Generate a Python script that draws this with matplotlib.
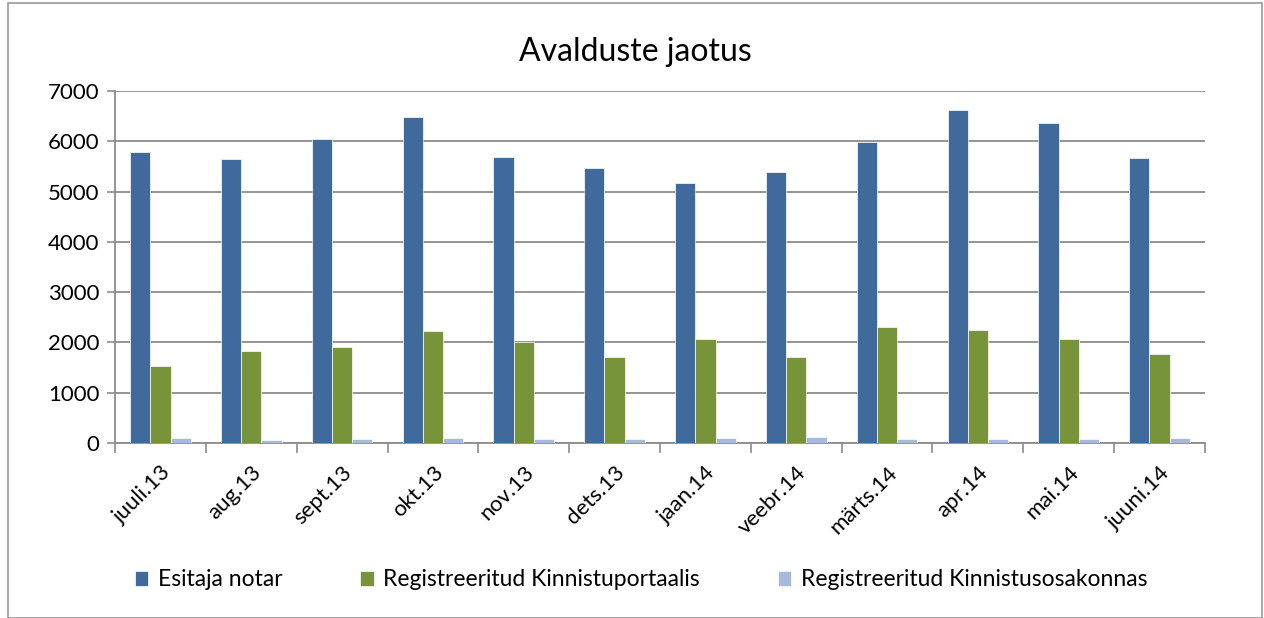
import numpy as np
import matplotlib.pyplot as plt
from matplotlib.patches import Rectangle

months = ['juuli.13', 'aug.13', 'sept.13', 'okt.13', 'nov.13', 'dets.13',
          'jaan.14', 'veebr.14', 'märts.14', 'apr.14', 'mai.14', 'juuni.14']
notar = [5790, 5650, 6055, 6480, 5690, 5470, 5165, 5385, 5990, 6615, 6355, 5665]
portaal = [1535, 1825, 1905, 2230, 2005, 1715, 2070, 1720, 2315, 2250, 2070, 1775]
osakond = [105, 65, 85, 100, 85, 85, 100, 120, 85, 75, 80, 95]

series_names = ['Esitaja notar', 'Registreeritud Kinnistuportaalis',
                'Registreeritud Kinnistusosakonnas']
colors = ['#406A9B', '#77943B', '#A8BADB']

plt.rcParams['font.family'] = ['Lato', 'DejaVu Sans']

fig = plt.figure(figsize=(12.64, 6.18), dpi=100)
ax = fig.add_axes([115 / 1264, 1 - 443 / 618, 1090 / 1264, 352 / 618])

x = np.arange(len(months))
w = 1 / 4.5
for i, (vals, name, c) in enumerate(zip([notar, portaal, osakond], series_names, colors)):
    ax.bar(x + (i - 1) * w, vals, width=w, color=c, edgecolor='white',
           linewidth=0.5, label=name, zorder=3)

ax.set_xlim(-0.5, len(months) - 0.5)
ax.set_ylim(0, 7000)
ax.set_yticks(range(0, 7001, 1000))
ax.yaxis.grid(True, color='#8c8c8c', linewidth=1.3, zorder=0)
ax.set_axisbelow(True)

ax.set_xticks(x)
ax.set_xticklabels(months, rotation=45, ha='right', rotation_mode='anchor',
                   fontsize=16)
ax.set_xticks(np.arange(-0.5, len(months), 1), minor=True)
ax.tick_params(axis='x', which='major', length=0, pad=14)
ax.tick_params(axis='x', which='minor', length=7, color='#8c8c8c', width=1.2)
ax.tick_params(axis='y', labelsize=16, length=6, color='#8c8c8c', width=1.2, pad=5)

for s in ['top', 'right']:
    ax.spines[s].set_visible(False)
for s in ['left', 'bottom']:
    ax.spines[s].set_color('#8c8c8c')
    ax.spines[s].set_linewidth(1.3)

fig.text(0.503, 1 - 52 / 618, 'Avalduste jaotus', ha='center', va='center',
         fontsize=23)

fig.legend(loc='center', bbox_to_anchor=(0.507, 1 - 580 / 618), ncol=3,
           frameon=False, fontsize=16.5, handlelength=0.6, handleheight=0.6,
           columnspacing=3.4, handletextpad=0.4)

fig.patches.append(Rectangle((8 / 1264, 0), 1254 / 1264, 1 - 3 / 618,
                             transform=fig.transFigure, fill=False,
                             edgecolor='#9a9a9a', linewidth=1.2))

fig.savefig('out.png', dpi=100)
